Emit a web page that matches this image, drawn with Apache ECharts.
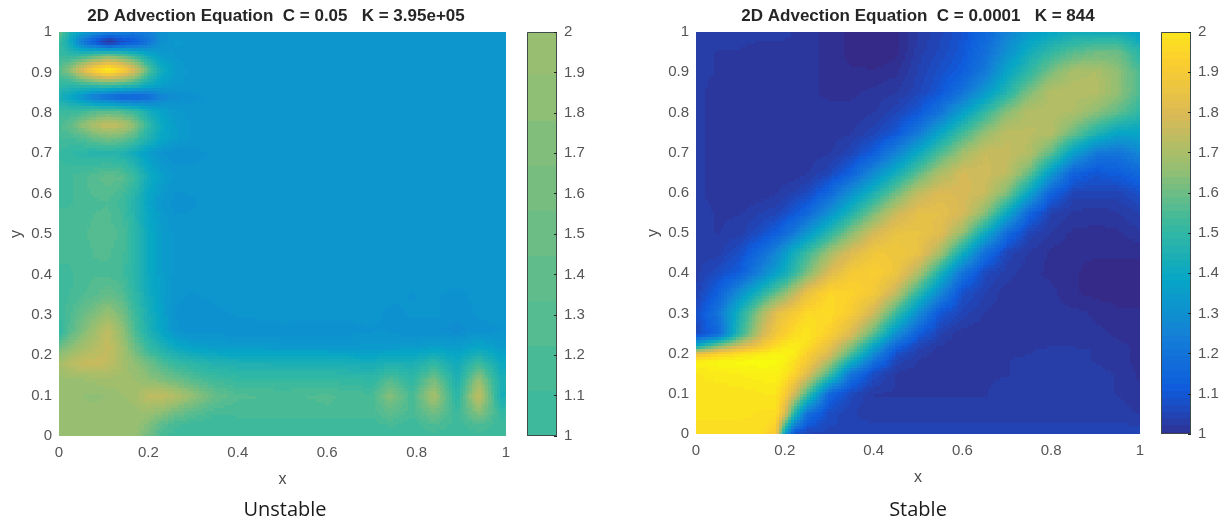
<!DOCTYPE html>
<html>
<head>
<meta charset="utf-8">
<style>html,body{margin:0;padding:0;background:#fff}#c{width:1226px;height:525px}</style>
<script src="https://cdn.jsdelivr.net/npm/echarts@6/dist/echarts.min.js"></script>
</head>
<body>
<div id="c"></div>
<script>
const titles = ['2D Advection Equation  C = 0.05   K = 3.95e+05', '2D Advection Equation  C = 0.0001   K = 844'];
const captions = ['Unstable', 'Stable'];
const parulaStops = ['#352a87','#0f5cdd','#1481d6','#06a7c6','#38b99e','#92bf73','#d9ba56','#fcce2e','#f9fb0e'];

const unstableRange = [-2.57, 4.57];
const stableRange = [0.97, 2.07];

const unstableX = [0,.025,.05,.075,.11,.14,.17,.2,.23,.26,.3,.35,.4,.5,.6,.7,.74,.79,.84,.89,.94,.99,1];
const unstableY = [0,.03,.06,.1,.14,.18,.22,.26,.3,.35,.4,.5,.58,.64,.7,.735,.77,.805,.84,.87,.905,.94,.975,1];
const unstableZ = [
[1.95,1.95,1.95,1.95,1.95,1.95,1.9,1.55,1.15,1.05,1.0,1.0,1.0,1.0,1.0,1.0,1.02,1.02,1.05,1.02,1.05,1.02,1.15],
[2,2,2,2,2,2,1.98,1.75,1.35,1.15,1.05,1.0,1.05,1.05,1.05,1.05,1.15,1.05,1.25,1.05,1.25,1.0,1.1],
[1.95,1.95,1.95,1.95,1.95,1.95,1.97,2.0,1.85,1.6,1.35,1.15,1.15,1.15,1.2,1.15,1.4,1.15,1.6,1.0,1.8,.9,1.0],
[1.95,1.95,1.9,1.85,1.9,2.0,2.05,2.4,2.45,2.3,1.9,1.45,1.25,1.2,1.25,1.15,1.75,1.15,2.15,.75,2.5,.35,.55],
[1.95,2.0,2.0,2.05,2.1,2.05,2.0,1.85,1.65,1.5,1.25,1.05,.95,.95,.95,.85,1.25,.85,1.6,.55,1.9,.45,.6],
[2.1,2.35,2.5,2.55,2.45,2.15,1.85,1.55,1.2,.95,.8,.6,.55,.5,.5,.4,.55,.5,.85,.3,1.05,.2,.3],
[1.5,1.8,2.05,2.25,2.5,2.1,1.5,.95,.55,.25,0,-.1,-.15,-.2,-.2,-.2,-.2,-.15,-.05,-.1,.1,-.15,-.1],
[.8,1.3,1.65,2.0,2.45,1.9,1.2,.6,.1,-.3,-.45,-.4,-.45,-.4,-.45,-.35,-.35,-.45,-.45,-.5,-.4,-.35,-.3],
[1.05,1.2,1.45,1.7,2.0,1.65,1.05,.5,0,-.35,-.45,-.38,-.32,-.28,-.28,-.3,-.38,-.32,-.3,-.42,-.32,-.28,-.25],
[1.05,1.1,1.2,1.3,1.45,1.3,.85,.35,-.05,-.3,-.35,-.3,-.3,-.28,-.28,-.28,-.3,-.35,-.32,-.38,-.3,-.28,-.25],
[1.1,1.1,1.15,1.2,1.2,1.1,.75,.25,-.1,-.25,-.3,-.28,-.26,-.25,-.25,-.25,-.25,-.25,-.25,-.26,-.25,-.25,-.22],
[1.15,1.15,1.2,1.25,1.28,1.2,.8,.25,-.1,-.25,-.3,-.27,-.25,-.25,-.25,-.25,-.25,-.25,-.25,-.25,-.25,-.25,-.22],
[1.1,1.1,1.15,1.2,1.22,1.05,.65,.1,-.25,-.4,-.35,-.3,-.27,-.25,-.25,-.25,-.25,-.25,-.25,-.25,-.25,-.25,-.22],
[1.05,1.1,1.18,1.3,1.4,1.35,1.0,.35,-.05,-.25,-.3,-.27,-.25,-.25,-.25,-.25,-.25,-.25,-.25,-.25,-.25,-.25,-.22],
[1.0,.9,.8,.7,.72,.6,.3,-.1,-.35,-.45,-.38,-.32,-.28,-.25,-.25,-.25,-.25,-.25,-.25,-.25,-.25,-.25,-.22],
[1.1,1.1,1.2,1.4,1.55,1.45,1.15,.6,.15,-.1,-.25,-.27,-.25,-.25,-.25,-.25,-.25,-.25,-.25,-.25,-.25,-.25,-.22],
[1.2,1.4,1.8,2.2,2.55,2.35,1.8,.9,.2,-.1,-.25,-.28,-.26,-.25,-.25,-.25,-.25,-.25,-.25,-.25,-.25,-.25,-.22],
[1.0,.95,1.0,1.2,1.3,1.2,.9,.4,0,-.2,-.27,-.28,-.26,-.25,-.25,-.25,-.25,-.25,-.25,-.25,-.25,-.25,-.22],
[.5,.1,-.3,-.9,-1.3,-1.6,-1.6,-1.3,-.7,-.5,-.38,-.3,-.27,-.25,-.25,-.25,-.25,-.25,-.25,-.25,-.25,-.25,-.22],
[.9,.8,.9,1.0,1.1,1.0,.8,.3,-.05,-.2,-.27,-.28,-.26,-.25,-.25,-.25,-.25,-.25,-.25,-.25,-.25,-.25,-.22],
[1.3,1.9,2.8,3.7,4.4,3.8,2.8,1.4,.3,-.1,-.3,-.3,-.27,-.25,-.25,-.25,-.25,-.25,-.25,-.25,-.25,-.25,-.22],
[1.0,.9,1.0,1.3,1.7,1.4,1.0,.3,-.1,-.25,-.3,-.28,-.26,-.25,-.25,-.25,-.25,-.25,-.25,-.25,-.25,-.25,-.22],
[1.0,.3,-.9,-1.7,-2.5,-2.0,-1.7,-1.1,-.4,-.2,-.25,-.27,-.25,-.25,-.25,-.25,-.25,-.25,-.25,-.25,-.25,-.25,-.22],
[1.6,.5,0,-.4,-.7,-.8,-.9,-.8,-.4,-.3,-.25,-.25,-.25,-.25,-.25,-.25,-.25,-.25,-.25,-.25,-.25,-.25,-.2]
];

const stableX = [0,.05,.1,.15,.18,.2,.22,.25,.3,.35,.4,.45,.5,.55,.6,.65,.7,.75,.8,.85,.9,.95,1];
const stableY = [0,.05,.1,.15,.18,.2,.22,.25,.3,.35,.4,.45,.5,.55,.6,.65,.7,.75,.8,.85,.9,.95,1];
const stableZ = [
[1.97,1.97,1.97,1.97,1.9,1.35,1.08,1.05,1.05,1.05,1.05,1.05,1.05,1.05,1.05,1.05,1.05,1.05,1.05,1.05,1.05,1.05,1.05],
[1.99,1.99,1.99,1.98,1.98,1.8,1.48,1.18,1.07,1.04,1.03,1.03,1.03,1.03,1.03,1.03,1.03,1.03,1.03,1.03,1.03,1.03,1.02],
[1.99,1.99,1.99,2.0,2.0,1.92,1.78,1.55,1.15,1.06,1.02,1.02,1.02,1.02,1.02,1.02,1.03,1.03,1.03,1.03,1.03,1.02,1.01],
[2.0,2.01,2.02,2.03,2.03,2.0,1.95,1.82,1.55,1.2,1.07,1.02,1.01,1.01,1.02,1.02,1.02,1.03,1.03,1.03,1.03,1.02,1.0],
[2.03,2.05,2.06,2.07,2.06,2.03,1.98,1.9,1.7,1.42,1.18,1.05,1.02,1.01,1.01,1.02,1.02,1.03,1.03,1.03,1.02,1.01,1.0],
[1.85,1.93,1.98,2.02,2.04,2.04,2.02,1.93,1.8,1.55,1.28,1.08,1.03,1.01,1.01,1.01,1.02,1.02,1.03,1.03,1.02,1.01,1.0],
[1.4,1.62,1.78,1.9,1.97,2.0,2.02,1.98,1.85,1.65,1.38,1.15,1.05,1.02,1.01,1.01,1.02,1.02,1.02,1.02,1.02,1.01,1.0],
[1.06,1.15,1.5,1.78,1.88,1.93,1.97,2.0,1.93,1.8,1.57,1.3,1.12,1.04,1.01,1.01,1.01,1.01,1.02,1.02,1.01,1.0,.99],
[1.07,1.2,1.45,1.7,1.82,1.87,1.9,1.96,1.97,1.91,1.77,1.53,1.29,1.1,1.05,1.02,1.01,1.01,1.01,1.01,1.0,.99,.99],
[1.04,1.13,1.3,1.48,1.58,1.65,1.73,1.85,1.95,1.94,1.89,1.75,1.5,1.27,1.08,1.04,1.01,1.01,1.01,.99,.98,.98,.98],
[1.03,1.07,1.12,1.27,1.36,1.42,1.5,1.62,1.8,1.9,1.92,1.87,1.72,1.45,1.2,1.06,1.03,1.01,1.0,.99,.98,.98,.98],
[1.03,1.03,1.08,1.18,1.26,1.34,1.43,1.52,1.68,1.8,1.88,1.88,1.85,1.7,1.43,1.18,1.05,1.02,1.0,.99,.99,.99,.99],
[1.03,1.02,1.03,1.08,1.12,1.17,1.22,1.32,1.48,1.64,1.78,1.85,1.85,1.82,1.67,1.41,1.17,1.05,1.02,1.0,1.0,1.0,1.02],
[1.03,1.02,1.02,1.04,1.05,1.07,1.1,1.15,1.3,1.46,1.62,1.76,1.83,1.83,1.79,1.65,1.4,1.15,1.04,1.02,1.01,1.02,1.04],
[1.03,1.01,1.01,1.01,1.02,1.03,1.04,1.06,1.15,1.3,1.45,1.6,1.74,1.8,1.79,1.76,1.63,1.38,1.14,1.05,1.05,1.05,1.08],
[1.03,1.01,1.01,1.01,1.01,1.01,1.01,1.02,1.05,1.13,1.28,1.42,1.57,1.7,1.78,1.77,1.74,1.6,1.34,1.14,1.1,1.12,1.16],
[1.03,1.01,1.01,1.01,1.01,1.01,1.01,1.01,1.02,1.05,1.12,1.25,1.4,1.55,1.68,1.76,1.75,1.72,1.58,1.36,1.22,1.2,1.27],
[1.03,1.01,1.01,1.01,1.01,1.01,1.01,1.01,1.01,1.02,1.05,1.1,1.22,1.38,1.53,1.66,1.74,1.73,1.72,1.6,1.47,1.38,1.38],
[1.03,1.01,1.01,1.01,1.01,1.01,1.01,1.01,1.01,1.01,1.02,1.05,1.1,1.2,1.35,1.5,1.64,1.72,1.72,1.71,1.65,1.58,1.5],
[1.03,1.01,1.01,1.01,1.01,1.01,1.01,1.01,1.0,1.0,1.01,1.02,1.05,1.1,1.19,1.33,1.47,1.62,1.72,1.72,1.72,1.66,1.55],
[1.03,1.02,1.01,1.01,1.01,1.01,1.01,1.01,1.0,.99,.99,1.0,1.04,1.08,1.12,1.22,1.38,1.5,1.62,1.7,1.71,1.65,1.55],
[1.03,1.02,1.02,1.01,1.01,1.01,1.01,1.01,1.0,.98,.97,.98,1.03,1.06,1.1,1.18,1.3,1.42,1.5,1.56,1.6,1.6,1.48],
[1.03,1.03,1.03,1.03,1.03,1.03,1.02,1.01,1.0,.98,.97,.98,1.02,1.05,1.09,1.15,1.25,1.34,1.38,1.42,1.42,1.42,1.36]
];

const colorbarLimits = [1, 2];

const hexRgb = stopHex => [1,3,5].map(k => parseInt(stopHex.substr(k, 2), 16));
const stopRgb = parulaStops.map(hexRgb);
const paletteSize = 64;
function parula(t) {
  t = Math.max(0, Math.min(1, t));
  const p = t * (stopRgb.length - 1), k = Math.min(stopRgb.length - 2, Math.floor(p)), f = p - k;
  const a = stopRgb[k], b = stopRgb[k + 1];
  return 'rgb(' + a.map((v, n) => Math.round(v + (b[n] - v) * f)).join(',') + ')';
}
const palette = Array.from({length: paletteSize}, (_, k) => parula(k / (paletteSize - 1)));
function colourOf(v, range) {
  const k = Math.floor((v - range[0]) / (range[1] - range[0]) * paletteSize);
  return palette[Math.max(0, Math.min(paletteSize - 1, k))];
}

function cells(xs, ys, zs) {
  const out = [];
  for (let j = 0; j + 1 < ys.length; j++) for (let i = 0; i + 1 < xs.length; i++) {
    out.push([xs[i], ys[j], xs[i + 1], ys[j + 1], zs[j][i], zs[j][i + 1], zs[j + 1][i], zs[j + 1][i + 1]]);
  }
  return out;
}
const BLOCK = 3;
function fieldRenderer(range) {
  return function (params, api) {
    const p0 = api.coord([api.value(0), api.value(1)]), p1 = api.coord([api.value(2), api.value(3)]);
    const z00 = api.value(4), z10 = api.value(5), z01 = api.value(6), z11 = api.value(7);
    const L = Math.round(p0[0]), R = Math.round(p1[0]), T = Math.round(p1[1]), B = Math.round(p0[1]);
    const children = [];
    for (let py = T; py < B; py += BLOCK) {
      const h = Math.min(BLOCK, B - py), v = 1 - (py + h / 2 - T) / (B - T);
      for (let px = L; px < R; px += BLOCK) {
        const w = Math.min(BLOCK, R - px), u = (px + w / 2 - L) / (R - L);
        const z = z00 * (1 - u) * (1 - v) + z10 * u * (1 - v) + z01 * (1 - u) * v + z11 * u * v;
        children.push({type: 'rect', shape: {x: px, y: py, width: w, height: h}, style: {fill: colourOf(z, range)}, silent: true});
      }
    }
    return {type: 'group', children};
  };
}
function barLevels(range) {
  const out = [];
  for (let k = 0; k < paletteSize; k++) {
    const a = range[0] + (range[1] - range[0]) * k / paletteSize, b = range[0] + (range[1] - range[0]) * (k + 1) / paletteSize;
    if (b > colorbarLimits[0] && a < colorbarLimits[1]) out.push([Math.max(a, colorbarLimits[0]), Math.min(b, colorbarLimits[1]), k]);
  }
  return out;
}
function barRenderer(params, api) {
  const a = api.coord([0, api.value(0)]), b = api.coord([1, api.value(1)]);
  const T = Math.round(b[1]), B = Math.round(a[1]);
  return {type: 'rect', shape: {x: a[0], y: T, width: b[0] - a[0], height: B - T}, style: {fill: palette[api.value(2)]}, silent: true};
}
function frameRenderer(params, api) {
  const a = api.coord([0, api.value(0)]), b = api.coord([1, api.value(1)]);
  return {type: 'rect', shape: {x: a[0] + .5, y: b[1] + .5, width: b[0] - a[0] - 1, height: a[1] - b[1] - 1},
          style: {fill: 'none', stroke: '#3f4a4a', lineWidth: 1}, silent: true};
}

const tickFont = {fontFamily: 'Liberation Sans', fontSize: 15, color: '#555555'};
const nameFont = {fontFamily: 'Liberation Sans', fontSize: 16, color: '#4a4a4a'};
const titleFont = {fontFamily: 'Liberation Sans', fontWeight: 'bold', fontSize: 17, color: '#262626'};
const captionFont = {fontFamily: 'Open Sans', fontWeight: 'normal', fontSize: 20, color: '#1a1a1a'};
const hiddenLine = {show: false};

function fieldAxes(gi) {
  return {
    x: {type: 'value', gridIndex: gi, min: 0, max: 1, interval: .2, name: 'x', nameLocation: 'middle', nameGap: 36, nameTextStyle: nameFont,
        axisLine: hiddenLine, axisTick: hiddenLine, splitLine: hiddenLine, axisLabel: Object.assign({margin: 9}, tickFont)},
    y: {type: 'value', gridIndex: gi, min: 0, max: 1, interval: .1, name: 'y', nameLocation: 'middle', nameGap: 34, nameTextStyle: nameFont,
        axisLine: hiddenLine, axisTick: hiddenLine, splitLine: hiddenLine, axisLabel: Object.assign({margin: 7}, tickFont)}
  };
}
function barAxes(gi) {
  return {
    x: {type: 'value', gridIndex: gi, min: 0, max: 1, show: false},
    y: {type: 'value', gridIndex: gi, min: 1, max: 2, interval: .1, position: 'right',
        axisLine: {show: false, onZero: false},
        axisTick: {show: true, inside: true, length: 3, lineStyle: {color: '#222'}}, splitLine: hiddenLine,
        axisLabel: Object.assign({margin: 7}, tickFont), z: 6}
  };
}
const a0 = fieldAxes(0), a1 = fieldAxes(1), b0 = barAxes(2), b1 = barAxes(3);

const chart = echarts.init(document.getElementById('c'), null, {renderer: 'canvas'});
chart.setOption({
  animation: false,
  backgroundColor: '#fff',
  title: [
    {text: titles[0], left: 271, top: 3, textAlign: 'center', textStyle: titleFont},
    {text: titles[1], left: 913, top: 3, textAlign: 'center', textStyle: titleFont},
    {text: captions[0], left: 280, top: 495, textAlign: 'center', textStyle: captionFont},
    {text: captions[1], left: 913, top: 495, textAlign: 'center', textStyle: captionFont}
  ],
  grid: [
    {left: 59, top: 32, width: 447, height: 404},
    {left: 696, top: 32, width: 444, height: 402},
    {left: 527, top: 32, width: 30, height: 404},
    {left: 1161, top: 32, width: 30, height: 402}
  ],
  xAxis: [a0.x, a1.x, b0.x, b1.x],
  yAxis: [a0.y, a1.y, b0.y, b1.y],
  series: [
    {type: 'custom', xAxisIndex: 0, yAxisIndex: 0, encode: {x: [0, 2], y: [1, 3]}, renderItem: fieldRenderer(unstableRange), data: cells(unstableX, unstableY, unstableZ), silent: true, progressive: 0, clip: true},
    {type: 'custom', xAxisIndex: 1, yAxisIndex: 1, encode: {x: [0, 2], y: [1, 3]}, renderItem: fieldRenderer(stableRange), data: cells(stableX, stableY, stableZ), silent: true, progressive: 0, clip: true},
    {type: 'custom', xAxisIndex: 2, yAxisIndex: 2, encode: {y: [0, 1]}, renderItem: barRenderer, data: barLevels(unstableRange), silent: true, progressive: 0},
    {type: 'custom', xAxisIndex: 3, yAxisIndex: 3, encode: {y: [0, 1]}, renderItem: barRenderer, data: barLevels(stableRange), silent: true, progressive: 0},
    {type: 'custom', xAxisIndex: 2, yAxisIndex: 2, encode: {y: [0, 1]}, renderItem: frameRenderer, data: [colorbarLimits], silent: true, z: 5},
    {type: 'custom', xAxisIndex: 3, yAxisIndex: 3, encode: {y: [0, 1]}, renderItem: frameRenderer, data: [colorbarLimits], silent: true, z: 5}
  ]
});
</script>
</body>
</html>
